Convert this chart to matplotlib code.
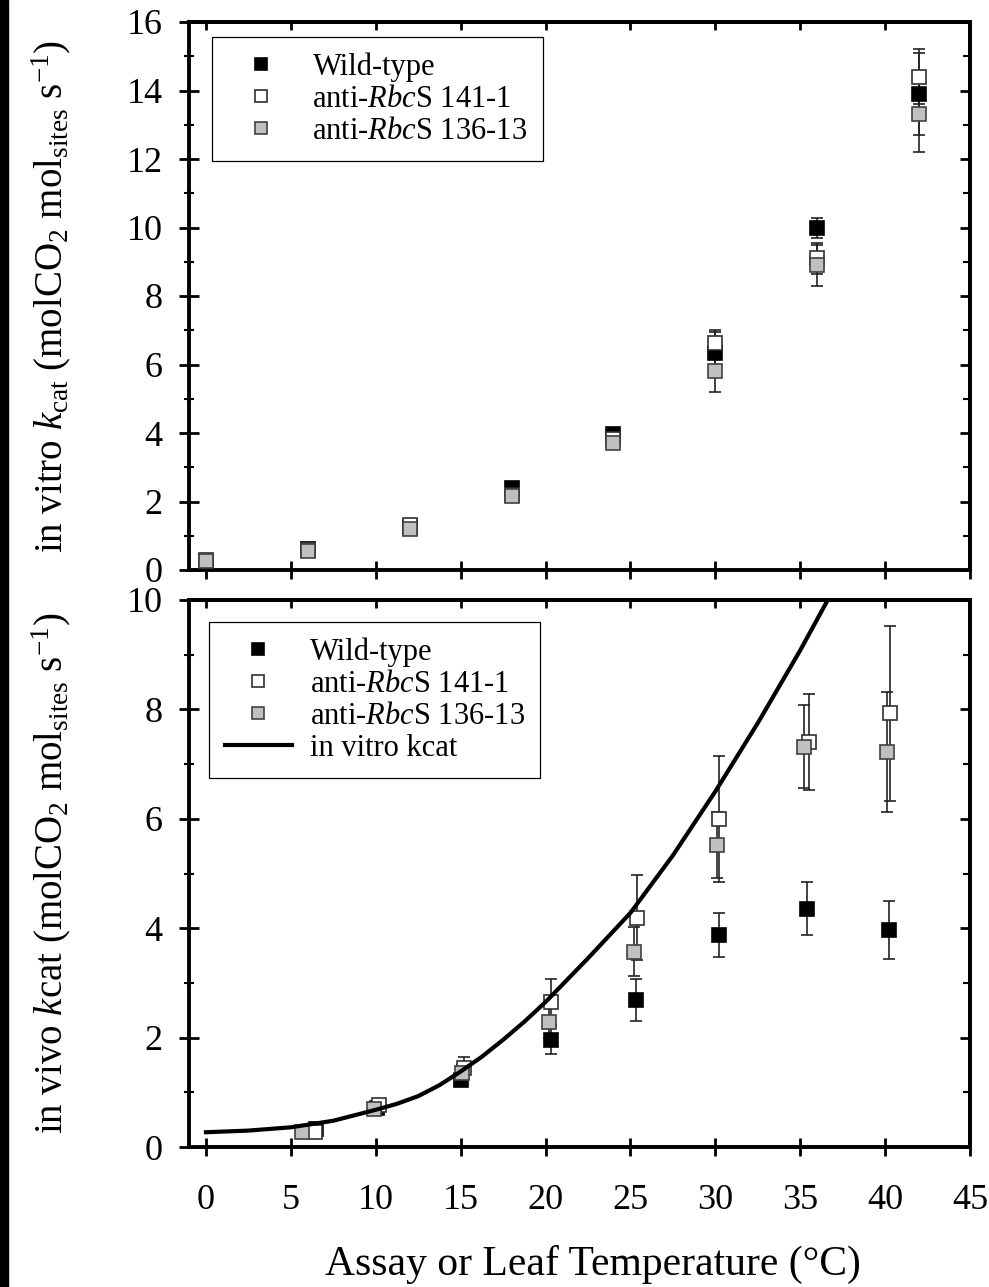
import numpy as np
import matplotlib
matplotlib.use('Agg')
import matplotlib.pyplot as plt
from matplotlib.patches import Rectangle
from matplotlib.ticker import MultipleLocator, NullFormatter

plt.rcParams['font.family'] = ['Liberation Serif', 'DejaVu Serif']
plt.rcParams['mathtext.fontset'] = 'custom'
plt.rcParams['mathtext.rm'] = 'Liberation Serif'
plt.rcParams['mathtext.it'] = 'Liberation Serif:italic'

# top panel: in vitro kcat at assay temperature
vitro_temp = [0, 6, 12, 18, 24, 30, 36, 42]
vitro_wt = [0.25, 0.60, 1.25, 2.38, 3.98, 6.35, 9.98, 13.9]
vitro_wt_err = [0.05, 0.06, 0.08, 0.12, 0.18, 0.6, 0.3, 1.2]
vitro_141 = [0.28, 0.58, 1.30, 2.20, 3.82, 6.63, 9.10, 14.4]
vitro_141_err = [0.04, 0.05, 0.08, 0.1, 0.15, 0.37, 0.45, 0.8]
vitro_136 = [0.27, 0.55, 1.20, 2.15, 3.70, 5.80, 8.90, 13.3]
vitro_136_err = [0.04, 0.05, 0.08, 0.1, 0.1, 0.6, 0.6, 1.1]

# bottom panel: in vivo kcat at leaf temperature
vivo_wt_t = [6.5, 10.1, 15.0, 20.3, 25.3, 30.2, 35.4, 40.2]
vivo_wt = [0.33, 0.72, 1.22, 1.96, 2.69, 3.87, 4.36, 3.97]
vivo_wt_err = [0.05, 0.05, 0.1, 0.26, 0.38, 0.4, 0.49, 0.53]
vivo_141_t = [6.4, 10.2, 15.2, 20.3, 25.4, 30.2, 35.5, 40.3]
vivo_141 = [0.28, 0.76, 1.45, 2.65, 4.19, 6.0, 7.40, 7.93]
vivo_141_err = [0.03, 0.08, 0.2, 0.42, 0.78, 1.15, 0.88, 1.6]
vivo_136_t = [5.65, 9.9, 15.1, 20.2, 25.2, 30.1, 35.2, 40.1]
vivo_136 = [0.27, 0.70, 1.35, 2.29, 3.57, 5.52, 7.32, 7.22]
vivo_136_err = [0.03, 0.05, 0.15, 0.3, 0.45, 0.6, 0.76, 1.1]

# in vitro kcat curve drawn over the in vivo data
curve_t = [0, 2.5, 5, 7.5, 10, 11.25, 12.5, 13.75, 15, 16.25, 17.5, 18.75, 20,
           22.5, 25, 27.5, 30, 32.5, 35, 37.5]
curve_k = [0.27, 0.30, 0.36, 0.48, 0.68, 0.79, 0.93, 1.13, 1.38, 1.65, 1.96, 2.29, 2.65,
           3.45, 4.28, 5.33, 6.50, 7.75, 9.08, 10.5]

labels = ['Wild-type', r'anti-$\mathit{Rbc}$S 141-1', r'anti-$\mathit{Rbc}$S 136-13']
faces = ['black', 'white', '#c0c0c0']
edges = ['black', '#303030', '#404040']

fig = plt.figure(figsize=(9.89, 12.87), dpi=100)
ax1 = fig.add_axes([189/989, 1 - 570/1287, 781/989, 548/1287])
ax2 = fig.add_axes([189/989, 1 - 1147/1287, 781/989, 547/1287])
fig.add_artist(Rectangle((0, 0), 8/989, 1, transform=fig.transFigure,
                         color='black', zorder=10))


def draw(ax, series):
    for (t, y, e), lab, fc, ec in zip(series, labels, faces, edges):
        ax.errorbar(t, y, yerr=e, fmt='none', ecolor='#222222', elinewidth=1.2,
                    capsize=4, capthick=1.2, zorder=2)
        ax.plot(t, y, 's', ms=9.5, mfc=fc, mec=ec, mew=1.2, linestyle='none',
                label=lab, zorder=3)


def style(ax, ymax):
    ax.set_xlim(-1, 45)
    ax.set_ylim(0, ymax)
    for s in ax.spines.values():
        s.set_linewidth(2.8)
    ax.xaxis.set_major_locator(MultipleLocator(5))
    ax.yaxis.set_major_locator(MultipleLocator(2))
    ax.yaxis.set_minor_locator(MultipleLocator(1))
    ax.tick_params(axis='x', which='major', direction='inout', length=13, width=2,
                   labelsize=26, pad=20, top=False)
    ax.tick_params(axis='y', which='major', direction='inout', length=14, width=2,
                   labelsize=26, pad=12, right=False)
    ax.tick_params(axis='y', which='minor', direction='inout', length=7, width=1.5,
                   right=False)
    sy = ax.secondary_yaxis('right')
    sy.yaxis.set_major_locator(MultipleLocator(2))
    sy.yaxis.set_minor_locator(MultipleLocator(1))
    sy.yaxis.set_major_formatter(NullFormatter())
    sy.tick_params(which='major', direction='in', length=7, width=2)
    sy.tick_params(which='minor', direction='in', length=5, width=1.5)
    sy.spines['right'].set_linewidth(2.8)
    sx = ax.secondary_xaxis('top')
    sx.xaxis.set_major_locator(MultipleLocator(5))
    sx.xaxis.set_major_formatter(NullFormatter())
    sx.tick_params(which='major', direction='in', length=6, width=2)
    sx.spines['top'].set_linewidth(2.8)


draw(ax1, [(vitro_temp, vitro_wt, vitro_wt_err),
           (vitro_temp, vitro_141, vitro_141_err),
           (vitro_temp, vitro_136, vitro_136_err)])
style(ax1, 16)
ax1.tick_params(axis='x', labelbottom=False)
ax1.set_ylabel(r'in vitro $k_{\mathrm{cat}}$ (molCO$_2$ mol$_{\mathrm{sites}}$ s$^{-1}$)',
               fontsize=28)
ax1.yaxis.set_label_coords(-0.148, 0.5)

draw(ax2, [(vivo_wt_t, vivo_wt, vivo_wt_err),
           (vivo_141_t, vivo_141, vivo_141_err),
           (vivo_136_t, vivo_136, vivo_136_err)])
ax2.plot(curve_t, curve_k, color='black', lw=3, label='in vitro kcat', zorder=4)
style(ax2, 10)
ax2.set_ylabel(r'in vivo $k$cat (molCO$_2$ mol$_{\mathrm{sites}}$ s$^{-1}$)', fontsize=28)
ax2.yaxis.set_label_coords(-0.148, 0.5)
ax2.set_xlabel('Assay or Leaf Temperature (°C)', fontsize=30)
ax2.xaxis.set_label_coords(0.517, -0.18)

leg_kw = dict(fontsize=22, frameon=True, fancybox=False, framealpha=1,
              edgecolor='black', handlelength=2.2, handletextpad=0.6,
              borderpad=0.5, labelspacing=0.1, borderaxespad=0, markerscale=0.85)
l1 = ax1.legend(loc='upper left', bbox_to_anchor=(0.029, 0.973), **leg_kw)
l2 = ax2.legend(loc='upper left', bbox_to_anchor=(0.026, 0.96), **leg_kw)
for lg in (l1, l2):
    lg.get_frame().set_linewidth(0.9)

fig.savefig('out.png', dpi=100)
